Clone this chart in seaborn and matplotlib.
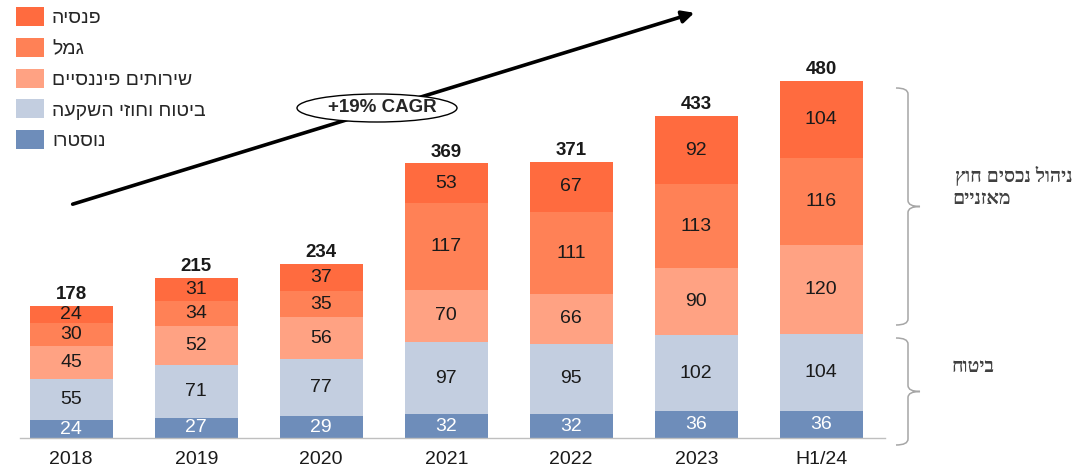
import numpy as np
import matplotlib
matplotlib.use("Agg")
import matplotlib.pyplot as plt
import seaborn as sns
from matplotlib.patches import Patch, Ellipse, FancyArrowPatch, PathPatch
from matplotlib.path import Path

# data
periods = ["2018", "2019", "2020", "2021", "2022", "2023", "H1/24"]
nostro = [24, 27, 29, 32, 32, 36, 36]
bituach = [55, 71, 77, 97, 95, 102, 104]
sherutim = [45, 52, 56, 70, 66, 90, 120]
gemel = [30, 34, 35, 117, 111, 113, 116]
pensia = [24, 31, 37, 53, 67, 92, 104]
totals = [178, 215, 234, 369, 371, 433, 480]

series_names = ["נוסטרו", "ביטוח וחוזי השקעה", "שירותים פיננסיים", "גמל", "פנסיה"]
series_vals = [nostro, bituach, sherutim, gemel, pensia]
colors = ["#6E8DBA", "#C3CEE0", "#FFA283", "#FF8156", "#FF6B3F"]

cagr_text = "+19% CAGR"
brace_top_text = ["ניהול נכסים חוץ", "מאזניים"]
brace_bot_text = "ביטוח"


def rtl(s):
    # matplotlib has no bidi support, flip Hebrew to visual order
    return s[::-1]


sns.set_style("white")
plt.rcParams["font.family"] = ["Liberation Sans", "DejaVu Sans"]

W, H = 1077, 470
fig = plt.figure(figsize=(W / 100, H / 100), dpi=100)
ax = fig.add_axes([20 / W, 32 / H, 865 / W, 431.5 / H])

cum = np.cumsum(np.array(series_vals), axis=0)
for k in range(len(series_vals) - 1, -1, -1):
    sns.barplot(x=periods, y=cum[k], color=colors[k], width=0.66,
                saturation=1, linewidth=0, ax=ax)

ax.set_xlim(-0.41, 6.51)
ax.set_ylim(0, 580)
ax.set_yticks([])
ax.set_ylabel("")
for s in ["top", "right", "left"]:
    ax.spines[s].set_visible(False)
ax.spines["bottom"].set_color("#BFBFBF")
ax.spines["bottom"].set_linewidth(1)
ax.tick_params(axis="x", length=0, labelsize=14, labelcolor="#1a1a1a", pad=9)

# segment labels
for k, vals in enumerate(series_vals):
    bottom = cum[k] - np.array(vals)
    for i, v in enumerate(vals):
        ax.text(i, bottom[i] + v / 2, str(v), ha="center", va="center",
                fontsize=14, color="white" if k == 0 else "#1a1a1a")

for i, t in enumerate(totals):
    ax.text(i, t + 4, str(t), ha="center", va="bottom", fontsize=13.5,
            fontweight="bold", color="#1a1a1a")

# legend
handles = [Patch(facecolor=c, edgecolor="none") for c in colors]
labels = [rtl(n) for n in series_names]
fig.legend(handles[::-1], labels[::-1], loc="upper left",
           bbox_to_anchor=(16 / W, 1 - 7 / H), frameon=False, fontsize=14,
           handlelength=1.45, handleheight=1.13, labelspacing=0.55,
           handletextpad=0.4, borderaxespad=0, borderpad=0)


def fx(px):
    return px / W


def fy(py):
    return 1 - py / H


# CAGR arrow
arr = FancyArrowPatch((fx(70), fy(205)), (fx(697), fy(12)),
                      transform=fig.transFigure, arrowstyle="-|>",
                      mutation_scale=18, linewidth=2.6, color="black")
fig.add_artist(arr)
ell = Ellipse((fx(377), fy(108)), 160 / W, 28 / H, transform=fig.transFigure,
              facecolor="white", edgecolor="black", linewidth=1)
fig.add_artist(ell)
fig.text(fx(382), fy(108), cagr_text, ha="center", va="center",
         fontsize=13.5, fontweight="bold")


# curly braces
def brace(x, y0, y1, xl=896, xr=920):
    ym = (y0 + y1) / 2
    r = 6
    pts = [(xl, y0), (x, y0), (x, y0 + r),
           (x, ym - r), (x, ym), (xr, ym),
           (x, ym), (x, ym + r),
           (x, y1 - r), (x, y1), (xl, y1)]
    codes = [Path.MOVETO, Path.CURVE3, Path.CURVE3,
             Path.LINETO, Path.CURVE3, Path.CURVE3,
             Path.CURVE3, Path.CURVE3,
             Path.LINETO, Path.CURVE3, Path.CURVE3]
    verts = [(fx(a), fy(b)) for a, b in pts]
    fig.add_artist(PathPatch(Path(verts, codes), transform=fig.transFigure,
                             facecolor="none", edgecolor="#A6A6A6", linewidth=1.1))


brace(908, 88, 325)
brace(908, 338, 445)

serif = ["Liberation Serif", "DejaVu Serif", "DejaVu Sans"]
fig.text(fx(1073), fy(176), rtl(brace_top_text[0]), ha="right", va="center",
         fontsize=14, fontweight="bold", color="#404040", family=serif)
fig.text(fx(952), fy(199), rtl(brace_top_text[1]), ha="left", va="center",
         fontsize=14, fontweight="bold", color="#404040", family=serif)
fig.text(fx(952), fy(367), rtl(brace_bot_text), ha="left", va="center",
         fontsize=14, fontweight="bold", color="#404040", family=serif)

fig.savefig("out.png", dpi=100)
